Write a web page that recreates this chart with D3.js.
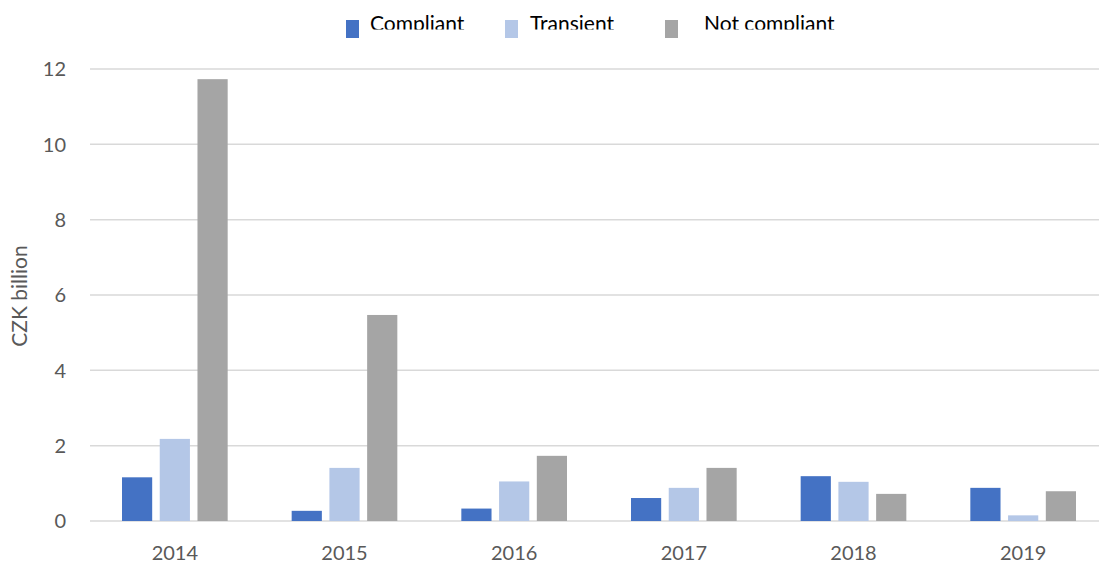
<!DOCTYPE html>
<html>
<head>
<meta charset="utf-8">
<script src="https://cdn.jsdelivr.net/npm/d3@7"></script>
<style>
  html, body { margin: 0; padding: 0; background: #fff; }
  svg { display: block; font-family: Lato, "Open Sans", sans-serif; }
</style>
</head>
<body>
<div id="chart"></div>
<script>
const years = ["2014", "2015", "2016", "2017", "2018", "2019"];
const seriesNames = ["Compliant", "Transient", "Not compliant"];
const compliant = [1.16, 0.27, 0.33, 0.61, 1.19, 0.88];
const transient = [2.18, 1.41, 1.05, 0.88, 1.04, 0.15];
const notCompliant = [11.73, 5.47, 1.73, 1.41, 0.72, 0.79];
const yTicks = [0, 2, 4, 6, 8, 10, 12];
const colors = ["#4472C4", "#B4C7E7", "#A5A5A5"];

const width = 1099, height = 563;

const svg = d3.select("#chart")
  .append("svg")
  .attr("width", width)
  .attr("height", height);

const x = d3.scaleBand()
  .domain(years)
  .range([90, 1108]);

const xInner = d3.scaleBand()
  .domain(seriesNames)
  .range([32, x.bandwidth() - 32])
  .paddingInner(0.2);

const y = d3.scaleLinear()
  .domain([0, 12])
  .range([521, 69]);

// gridlines
svg.append("g")
  .selectAll("line")
  .data(yTicks)
  .join("line")
  .attr("x1", 90)
  .attr("x2", 1108)
  .attr("y1", d => y(d))
  .attr("y2", d => y(d))
  .attr("stroke", "#D9D9D9")
  .attr("stroke-width", 1.5);

// y tick labels
svg.append("g")
  .selectAll("text")
  .data(yTicks)
  .join("text")
  .attr("x", 66)
  .attr("y", d => y(d))
  .attr("dy", "0.36em")
  .attr("text-anchor", "end")
  .attr("font-size", 20)
  .attr("fill", "#595959")
  .text(d => d);

// bars
const table = years.map((yr, i) => ({
  year: yr,
  values: [compliant[i], transient[i], notCompliant[i]]
}));

const groups = svg.append("g")
  .selectAll("g")
  .data(table)
  .join("g")
  .attr("transform", d => `translate(${x(d.year)},0)`);

groups.selectAll("rect")
  .data(d => d.values.map((v, j) => ({ name: seriesNames[j], value: v, color: colors[j] })))
  .join("rect")
  .attr("x", d => xInner(d.name))
  .attr("width", xInner.bandwidth())
  .attr("y", d => y(d.value))
  .attr("height", d => y(0) - y(d.value))
  .attr("fill", d => d.color);

// x labels
svg.append("g")
  .selectAll("text")
  .data(years)
  .join("text")
  .attr("x", d => x(d) + x.bandwidth() / 2)
  .attr("y", 560)
  .attr("text-anchor", "middle")
  .attr("font-size", 20)
  .attr("fill", "#595959")
  .text(d => d);

// axis title
svg.append("text")
  .attr("transform", "translate(27,296) rotate(-90)")
  .attr("text-anchor", "middle")
  .attr("font-size", 21)
  .attr("fill", "#595959")
  .text("CZK billion");

// legend (text clipped at top, as in the source)
svg.append("clipPath")
  .attr("id", "legclip")
  .append("rect")
  .attr("x", 0).attr("y", 0)
  .attr("width", width).attr("height", 29.5);

const legendSwatchX = [346, 505, 665];
const legendTextX = [370, 530, 704];

const leg = svg.append("g");
leg.selectAll("rect")
  .data(seriesNames)
  .join("rect")
  .attr("x", (d, i) => legendSwatchX[i])
  .attr("y", 20)
  .attr("width", 13)
  .attr("height", 18)
  .attr("fill", (d, i) => colors[i]);

leg.append("g")
  .attr("clip-path", "url(#legclip)")
  .selectAll("text")
  .data(seriesNames)
  .join("text")
  .attr("x", (d, i) => legendTextX[i])
  .attr("y", 31)
  .attr("font-size", 21)
  .attr("fill", "#000")
  .text(d => d);
</script>
</body>
</html>
